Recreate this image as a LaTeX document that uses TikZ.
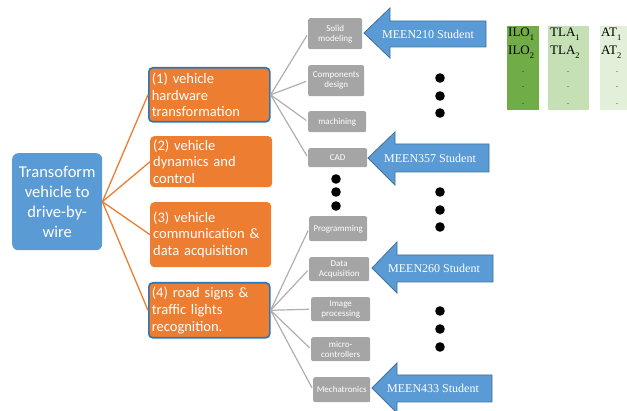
\documentclass[tikz,border=0pt]{standalone}
\usepackage{fontspec}
\setmainfont{Carlito}
\newfontfamily\timesf{Liberation Serif}
\definecolor{mblue}{HTML}{5B9BD5}
\definecolor{bord}{HTML}{2E75B6}
\definecolor{arrline}{HTML}{41719C}
\definecolor{orng}{HTML}{ED7D31}
\definecolor{gry}{HTML}{A5A5A5}
\definecolor{gline}{HTML}{AFAFAF}
\definecolor{gone}{HTML}{70AD47}
\definecolor{gtwo}{HTML}{C5E0B4}
\definecolor{gthree}{HTML}{E2F0D9}
\newcommand\sbs[1]{\raisebox{-0.28em}{\fontsize{8.5}{8.5}\selectfont #1}}
\tikzset{
  mainbox/.style={fill=mblue, rounded corners=6pt, text=white, align=center,
    font=\fontsize{16.5}{20}\selectfont, inner sep=0pt, anchor=north west},
  obox/.style={fill=orng, rounded corners=4pt, text=white, align=left,
    font=\fontsize{14.5}{16.7}\selectfont, inner xsep=3pt, inner ysep=0pt, anchor=north west},
  hl/.style={draw=bord, line width=1.6pt},
  gbox/.style={fill=gry, rounded corners=2pt, text=white, align=center,
    font=\fontsize{9}{10}\selectfont, inner sep=0pt, anchor=north west},
  oline/.style={draw=orng, line width=1.3pt},
  gl/.style={draw=gline, line width=1.2pt},
  barrow/.style={fill=mblue, draw=arrline, line width=0.8pt},
  atext/.style={text=white, font=\timesf\fontsize{12}{12}\selectfont, inner sep=0pt},
  dotc/.style={fill=black},
  gtext/.style={font=\timesf\fontsize{13}{13}\selectfont, inner sep=0pt, anchor=west},
  gdots/.style={font=\timesf\fontsize{8}{8}\selectfont, inner sep=0pt}
}
\begin{document}
\begin{tikzpicture}[x=1pt,y=-1pt]
\useasboundingbox (0,0) rectangle (627,411);

% main box
\node[mainbox, minimum width=90pt, minimum height=97pt] (main) at (12,153)
  {Transoform\\vehicle to\\drive-by-\\wire};

% orange boxes
\node[obox, hl, minimum width=121pt, minimum height=54pt, text width=115pt] (o1) at (148,67)
  {(1) vehicle\\hardware\\transformation};
\node[obox, minimum width=122pt, minimum height=51pt, text width=116pt] (o2) at (150,136)
  {(2) vehicle\\dynamics and\\control};
\node[obox, minimum width=121pt, minimum height=65pt, text width=115pt] (o3) at (150,202)
  {(3) vehicle\\communication \&\\data acquisition};
\node[obox, hl, minimum width=121pt, minimum height=55pt, text width=115pt] (o4) at (148,282)
  {(4) road signs \&\\traffic lights\\recognition.};

\foreach \n in {o1,o2,o3,o4} \draw[oline] (main.east) -- (\n.west);

% gray boxes
\node[gbox, minimum width=54pt, minimum height=31pt] (g1) at (308,18) {Solid\\modeling};
\node[gbox, minimum width=56pt, minimum height=31pt] (g2) at (308,65) {Components\\design};
\node[gbox, minimum width=58pt, minimum height=21pt] (g3) at (308,111) {machining};
\node[gbox, minimum width=59pt, minimum height=19pt] (g4) at (308,148) {CAD};
\node[gbox, minimum width=58pt, minimum height=25pt] (g5) at (309,216) {Programming};
\node[gbox, minimum width=60pt, minimum height=24pt] (g6) at (309,257) {Data\\Acquisition};
\node[gbox, minimum width=59pt, minimum height=24pt] (g7) at (311,297) {Image\\processing};
\node[gbox, minimum width=59pt, minimum height=24pt] (g8) at (311,337) {micro-\\controllers};
\node[gbox, minimum width=57pt, minimum height=25pt] (g9) at (313,377) {Mechatronics};

\foreach \n in {g1,g2,g3,g4} \draw[gl, shorten >=2pt] (o1.east) -- (\n.west);
\foreach \n in {g5,g6,g7,g8,g9} \draw[gl, shorten >=2pt] (o4.east) -- (\n.west);

% blue arrows
\draw[barrow] (364,33) -- (390,8) -- (390,21) -- (486,21) -- (486,47) -- (390,47) -- (390,58) -- cycle;
\node[atext] (a1) at (428,34) {MEEN210 Student};
\draw[barrow] (368,158) -- (395,132) -- (395,144) -- (489,144) -- (489,172) -- (395,172) -- (395,185) -- cycle;
\node[atext] (a2) at (430,158) {MEEN357 Student};
\draw[barrow] (372,268) -- (397,242) -- (397,255) -- (493,255) -- (493,282) -- (397,282) -- (397,293) -- cycle;
\node[atext] (a3) at (434,268) {MEEN260 Student};
\draw[barrow] (372,388) -- (397,363) -- (397,375) -- (492,375) -- (492,402) -- (397,402) -- (397,413) -- cycle;
\node[atext] (a4) at (433,388) {MEEN433 Student};

% dots
\foreach \y in {78,96,113,192,210,227,311,329,347} \fill[dotc] (440,\y) circle (4.8pt);
\foreach \y in {179,192,206} \fill[dotc] (336,\y) circle (4.8pt);

% green columns
\fill[gone] (507,26) rectangle (539,110);
\fill[gtwo] (548,26) rectangle (589,110);
\fill[gthree] (600,26) rectangle (627,110);
\node[gtext] (t11) at (508,34) {ILO\sbs{1}};
\node[gtext] (t12) at (508,52) {ILO\sbs{2}};
\node[gtext] (t21) at (550,34) {TLA\sbs{1}};
\node[gtext] (t22) at (550,52) {TLA\sbs{2}};
\node[gtext] (t31) at (601,34) {AT\sbs{1}};
\node[gtext] (t32) at (601,52) {AT\sbs{2}};
\foreach \x in {523,568,617}
  \foreach \y in {72,87,104} \node[gdots] at (\x,\y) {.};
\end{tikzpicture}
\end{document}
